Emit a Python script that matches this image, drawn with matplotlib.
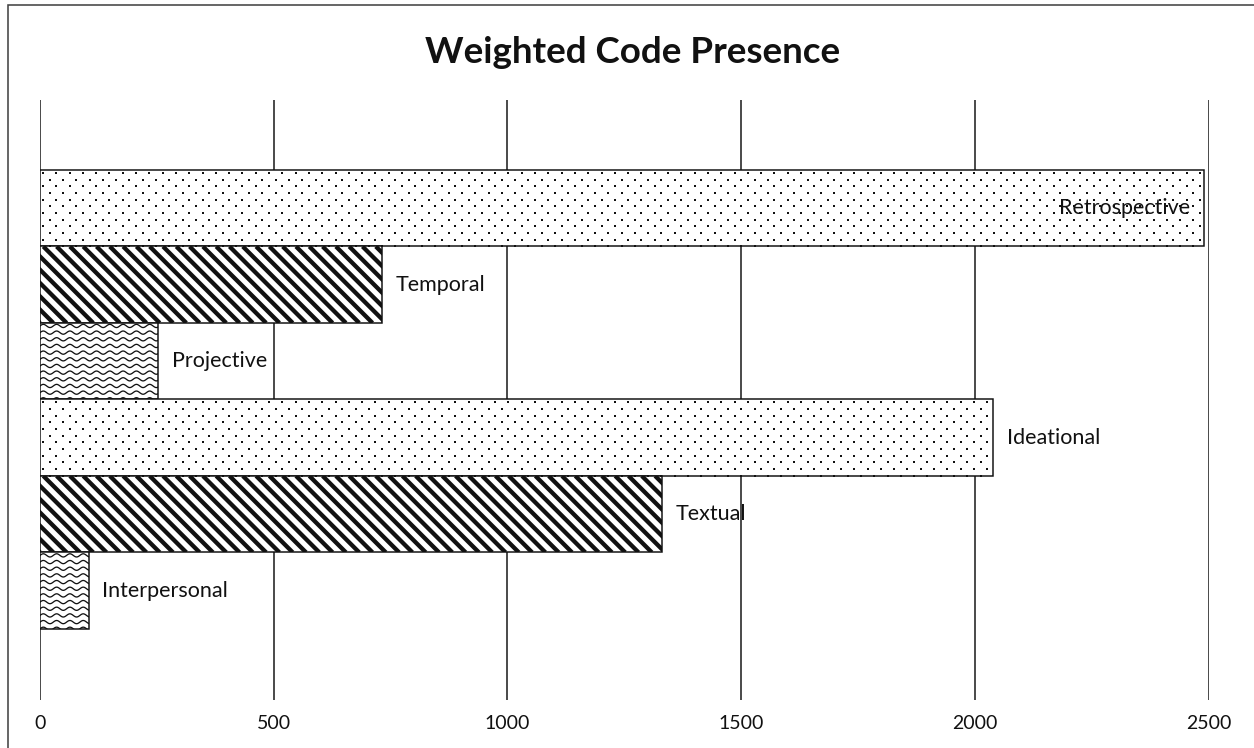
import matplotlib

matplotlib.use("Agg")
import matplotlib.pyplot as plt
import numpy as np
from matplotlib.collections import LineCollection
from matplotlib.patches import Rectangle
from matplotlib.transforms import IdentityTransform

categories = ["Retrospective", "Temporal", "Projective", "Ideational", "Textual", "Interpersonal"]
presence = [2490, 731, 253, 2040, 1331, 104]
fills = ["dots", "diagonal", "wave", "dots", "diagonal", "wave"]
x_ticks = [0, 500, 1000, 1500, 2000, 2500]

W, H, DPI = 1254, 748, 100
INK = "#111111"
PX = 72 / DPI  # one pixel in points

plt.rcParams["font.family"] = ["Lato", "DejaVu Sans"]


def add_dots(ax, bar, step=13.3, row=6.67):
    x0, y0, x1, y1 = bar.get_window_extent().extents
    xs, ys = [], []
    for i, y in enumerate(np.arange(y1 - 3, y0, -row)):
        start = x0 + 3 + (step / 2 if i % 2 else 0)
        for x in np.arange(start, x1, step):
            xs.append(x)
            ys.append(y)
    ax.scatter(xs, ys, s=2.2, marker="s", c=INK, linewidths=0,
               transform=IdentityTransform(), zorder=3)


def add_lines(ax, bar, segs, lw):
    lc = LineCollection(segs, colors=INK, linewidths=lw,
                        transform=IdentityTransform(), zorder=3)
    ax.add_collection(lc, autolim=False)
    # clip after adding, otherwise the axes patch replaces the bar clip
    lc.set_clip_path(bar)


def add_diagonals(ax, bar, step=13.3):
    x0, y0, x1, y1 = bar.get_window_extent().extents
    h = y1 - y0
    segs = [[(c, y1), (c + h, y0)] for c in np.arange(x0 - h, x1 + step, step)]
    add_lines(ax, bar, segs, 4.3 * PX)


def add_waves(ax, bar, period=13.3, row=6.67, amp=1.6):
    x0, y0, x1, y1 = bar.get_window_extent().extents
    xs = np.arange(x0 - period, x1 + period, 0.5)
    segs = [np.column_stack([xs, y + amp * np.sin(2 * np.pi * (xs - x0) / period)])
            for y in np.arange(y1 - 3, y0 - row, -row)]
    add_lines(ax, bar, segs, 1.3 * PX)


fig = plt.figure(figsize=(W / DPI, H / DPI), dpi=DPI)
ax = fig.add_axes([40 / W, 48 / H, 1168.5 / W, 600 / H])

ypos = np.arange(len(categories))
bars = ax.barh(ypos, presence, height=1.0, color="white", edgecolor=INK,
               linewidth=1.5 * PX, zorder=2)
ax.set_xlim(0, 2500)
ax.set_ylim(len(categories) - 0.5 + 0.93, -0.5 - 0.915)

texture = {"dots": add_dots, "diagonal": add_diagonals, "wave": add_waves}
for bar, kind in zip(bars, fills):
    texture[kind](ax, bar)

# category labels sit just past the bar end, or inside it when there is no room
for y, val, name in zip(ypos, presence, categories):
    if val > 0.95 * 2500:
        ax.annotate(name, (val, y), xytext=(-10, 0), textcoords="offset points",
                    ha="right", va="center", fontsize=15.5, color=INK, zorder=5)
    else:
        ax.annotate(name, (val, y), xytext=(10, 0), textcoords="offset points",
                    ha="left", va="center", fontsize=15.5, color=INK, zorder=5)

ax.set_xticks(x_ticks)
ax.set_xticklabels([str(t) for t in x_ticks])
ax.set_yticks([])
ax.tick_params(axis="x", length=0, pad=11, labelsize=14, labelcolor=INK)
ax.grid(axis="x", color="#222222", linewidth=1.6 * PX, zorder=0)
ax.set_axisbelow(True)
for side in ax.spines.values():
    side.set_visible(False)

fig.text(633 / W, 1 - 63 / H, "Weighted Code Presence", ha="center", va="baseline",
         fontsize=26.5, fontweight="bold", color=INK)

# chart frame, running off the right and bottom edges
fig.patches.append(Rectangle((8 / W, -0.1), 1.2, 1.1 - 4.5 / H, transform=fig.transFigure,
                             fill=False, edgecolor="#444444", linewidth=1.6 * PX))

fig.savefig("out.png", dpi=DPI)
plt.close(fig)
